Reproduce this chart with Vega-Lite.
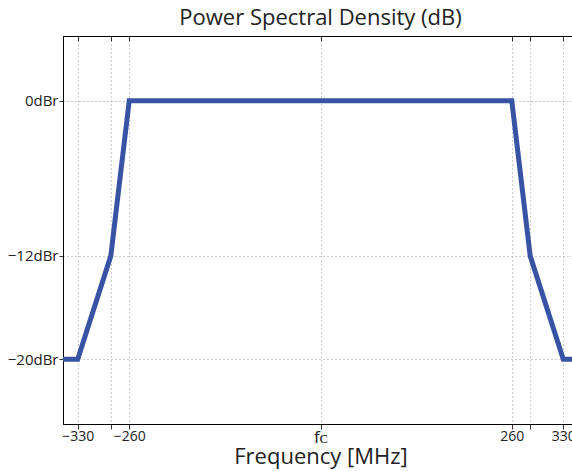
{
  "$schema": "https://vega.github.io/schema/vega-lite/v6.json",
  "width": 515,
  "height": 388,
  "autosize": {"type": "none"},
  "padding": {"left": 63, "top": 36, "right": 0, "bottom": 47},
  "background": "white",
  "config": {
    "view": {"stroke": "black", "strokeWidth": 1},
    "font": "Open Sans",
    "axis": {
      "labelFont": "Open Sans",
      "titleFont": "Open Sans",
      "labelColor": "#222",
      "titleColor": "#222",
      "domainColor": "black",
      "tickColor": "#333",
      "gridColor": "#999",
      "gridDash": [1, 3],
      "gridWidth": 1,
      "titleFontWeight": "normal"
    }
  },
  "title": {
    "text": "Power Spectral Density (dB)",
    "font": "Open Sans",
    "fontSize": 22,
    "fontWeight": "normal",
    "color": "#222",
    "offset": 6
  },
  "data": {
    "values": [
      {"f": -350, "db": -20},
      {"f": -330, "db": -20},
      {"f": -285, "db": -12},
      {"f": -260, "db": 0},
      {"f": 260, "db": 0},
      {"f": 285, "db": -12},
      {"f": 330, "db": -20},
      {"f": 350, "db": -20}
    ]
  },
  "layer": [
    {
      "mark": {"type": "line", "color": "#3953a4", "strokeWidth": 5, "clip": true},
      "encoding": {
        "x": {
          "field": "f",
          "type": "quantitative",
          "scale": {"domain": [-350, 350], "nice": false, "zero": false},
          "axis": {
            "orient": "bottom",
            "values": [-330, -285, -260, 0, 260, 285, 330],
            "labelExpr": "datum.value == 0 ? 'fᴄ' : (abs(datum.value) == 285 ? '' : datum.label)",
            "labelFontSize": {"condition": {"test": "datum.value == 0", "value": 17}, "value": 14},
            "labelPadding": 0,
            "tickSize": 5,
            "title": "Frequency [MHz]",
            "titleFontSize": 22,
            "titlePadding": 1,
            "grid": true
          }
        },
        "y": {
          "field": "db",
          "type": "quantitative",
          "scale": {"domain": [-25, 5], "nice": false, "zero": false},
          "axis": {
            "values": [-20, -12, 0],
            "labelExpr": "datum.label + 'dBr'",
            "labelFontSize": 15,
            "labelPadding": 1,
            "tickSize": 4,
            "title": null,
            "grid": true
          }
        }
      }
    },
    {
      "mark": {"type": "line", "opacity": 0},
      "encoding": {
        "x": {
          "field": "f",
          "type": "quantitative",
          "axis": {
            "orient": "top",
            "values": [-330, -285, -260, 0, 260, 285, 330],
            "labels": false,
            "tickSize": -5,
            "domain": true,
            "grid": false,
            "title": null
          }
        },
        "y": {"field": "db", "type": "quantitative"}
      }
    }
  ],
  "resolve": {"axis": {"x": "independent"}}
}
